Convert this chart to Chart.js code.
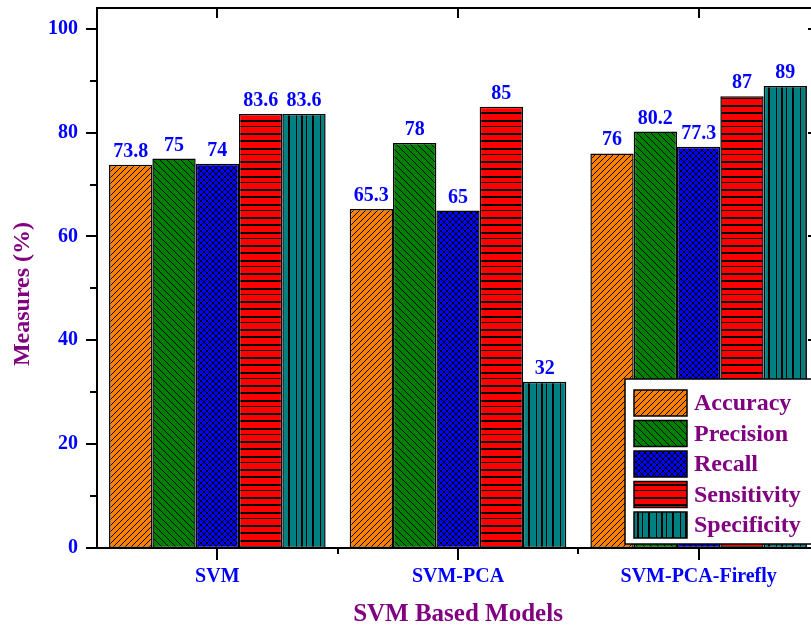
<!DOCTYPE html>
<html>
<head>
<meta charset="utf-8">
<script src="https://cdn.jsdelivr.net/npm/chart.js@4.4.0/dist/chart.umd.min.js"></script>
<style>
  html, body { margin: 0; padding: 0; background: #fff; overflow: hidden; }
  #wrap { width: 830px; height: 630px; }
</style>
</head>
<body>
<div id="wrap"><canvas id="chart" width="830" height="630"></canvas></div>
<script>
// data
const models = ['SVM', 'SVM-PCA', 'SVM-PCA-Firefly'];
const metrics = ['Accuracy', 'Precision', 'Recall', 'Sensitivity', 'Specificity'];
const accuracy = [73.8, 65.3, 76];
const precision = [75, 78, 80.2];
const recall = [74, 65, 77.3];
const sensitivity = [83.6, 85, 87];
const specificity = [83.6, 32, 89];

const SERIF = '"Liberation Serif", "Times New Roman", serif';
const PURPLE = '#800080';
const BLUE = '#0000FF';

// hatch fills like the Origin patterns
function makePattern(kind, bg) {
    const c = document.createElement('canvas');
    const g = c.getContext('2d');
    let w = 6, h = 6;
    if (kind === 'back') { w = 7; h = 7; }
    if (kind === 'hlines') { w = 4; h = 28; }
    if (kind === 'vlines') { w = 24; h = 4; }
    c.width = w; c.height = h;
    g.fillStyle = bg;
    g.fillRect(0, 0, w, h);
    g.fillStyle = '#000';
    g.strokeStyle = '#000';
    g.lineWidth = 1;
    if (kind === 'slash' || kind === 'cross') {
        g.beginPath();
        g.moveTo(-1, h + 1); g.lineTo(w + 1, -1);
        g.moveTo(-1, 1); g.lineTo(1, -1);
        g.moveTo(w - 1, h + 1); g.lineTo(w + 1, h - 1);
        g.stroke();
    }
    if (kind === 'back' || kind === 'cross') {
        g.beginPath();
        g.moveTo(-1, -1); g.lineTo(w + 1, h + 1);
        g.moveTo(w - 1, -1); g.lineTo(w + 1, 1);
        g.moveTo(-1, h - 1); g.lineTo(1, h + 1);
        g.stroke();
    }
    if (kind === 'hlines') {
        g.fillRect(0, 0, w, 2);
        g.fillRect(0, 8, w, 2);
        g.fillRect(0, 14, w, 1);
        g.fillRect(0, 21, w, 2);
    }
    if (kind === 'vlines') {
        g.fillRect(0, 0, 2, h);
        g.fillRect(8, 0, 1, h);
        g.fillRect(13, 0, 2, h);
        g.fillRect(18, 0, 1, h);
    }
    return g.createPattern(c, 'repeat');
}

const fills = [
    makePattern('slash', '#FF8000'),
    makePattern('back', '#008000'),
    makePattern('cross', '#0000FF'),
    makePattern('hlines', '#FF0000'),
    makePattern('vlines', '#008080')
];
const seriesData = [accuracy, precision, recall, sensitivity, specificity];

// axes box and tick marks
const framePlugin = {
    id: 'frame',
    afterDatasetsDraw(chart) {
        const { ctx, chartArea: a, scales: { x, y } } = chart;
        ctx.save();
        ctx.strokeStyle = '#000';
        ctx.lineWidth = 2;
        ctx.beginPath();
        ctx.moveTo(a.left - 11, a.bottom); ctx.lineTo(a.right, a.bottom);
        ctx.moveTo(a.left, a.bottom); ctx.lineTo(a.left, a.top);
        ctx.lineTo(a.right, a.top); ctx.lineTo(a.right, a.bottom);
        for (let v = 10; v <= 100; v += 10) {
            const py = Math.round(y.getPixelForValue(v));
            const len = v % 20 === 0 ? 11 : 7;
            ctx.moveTo(a.left - len, py); ctx.lineTo(a.left, py);
            ctx.moveTo(a.right - len, py); ctx.lineTo(a.right, py);
        }
        models.forEach((m, i) => {
            const px = Math.round(x.getPixelForValue(i));
            ctx.moveTo(px, a.bottom); ctx.lineTo(px, a.bottom + 12);
            ctx.moveTo(px, a.top); ctx.lineTo(px, a.top + 10);
            if (i < models.length - 1) {
                const mx = Math.round((x.getPixelForValue(i) + x.getPixelForValue(i + 1)) / 2);
                ctx.moveTo(mx, a.bottom); ctx.lineTo(mx, a.bottom + 6);
            }
        });
        ctx.stroke();

        // y axis title
        ctx.translate(23, 294);
        ctx.rotate(-Math.PI / 2);
        ctx.fillStyle = PURPLE;
        ctx.font = 'bold 24px ' + SERIF;
        ctx.textAlign = 'center';
        ctx.textBaseline = 'middle';
        ctx.fillText('Measures (%)', 0, 0);
        ctx.restore();
    }
};

// value labels above bars
const valuePlugin = {
    id: 'values',
    afterDatasetsDraw(chart) {
        const ctx = chart.ctx;
        ctx.save();
        ctx.fillStyle = BLUE;
        ctx.font = 'bold 20px ' + SERIF;
        ctx.textAlign = 'center';
        ctx.textBaseline = 'alphabetic';
        chart.data.datasets.forEach((ds, i) => {
            chart.getDatasetMeta(i).data.forEach((bar, j) => {
                ctx.fillText(String(ds.data[j]), bar.x, bar.y - 8);
            });
        });
        ctx.restore();
    }
};

// boxed legend in the lower right, over the bars
const legendPlugin = {
    id: 'boxLegend',
    afterDraw(chart) {
        const ctx = chart.ctx;
        ctx.save();
        ctx.fillStyle = '#fff';
        ctx.fillRect(625, 379, 220, 165);
        ctx.strokeStyle = '#000';
        ctx.lineWidth = 1.5;
        ctx.strokeRect(625, 379, 220, 165);
        ctx.font = 'bold 24px ' + SERIF;
        ctx.textBaseline = 'middle';
        ctx.textAlign = 'left';
        chart.data.datasets.forEach((ds, i) => {
            const sy = 390 + i * 30.5;
            ctx.fillStyle = ds.backgroundColor;
            ctx.fillRect(634, sy, 53, 26);
            ctx.strokeRect(634, sy, 53, 26);
            ctx.fillStyle = PURPLE;
            ctx.fillText(ds.label, 694, sy + 14);
        });
        ctx.restore();
    }
};

new Chart(document.getElementById('chart'), {
    type: 'bar',
    data: {
        labels: models,
        datasets: metrics.map((name, i) => ({
            label: name,
            data: seriesData[i],
            backgroundColor: fills[i],
            borderColor: '#000',
            borderWidth: 1.5,
            borderSkipped: false,
            categoryPercentage: 0.9,
            barPercentage: 1
        }))
    },
    options: {
        responsive: false,
        animation: false,
        layout: { padding: { top: 8, right: 11, left: 0, bottom: 0 } },
        plugins: {
            legend: { display: false },
            tooltip: { enabled: false }
        },
        scales: {
            x: {
                grid: { display: false, drawTicks: false, tickLength: 0 },
                border: { display: false },
                ticks: {
                    color: BLUE,
                    padding: 17,
                    font: { family: SERIF, size: 20, weight: 'bold' }
                },
                title: {
                    display: true,
                    text: 'SVM Based Models',
                    color: PURPLE,
                    padding: { top: 0, bottom: 3 },
                    font: { family: SERIF, size: 25, weight: 'bold', lineHeight: 1 }
                },
                afterFit(scale) {
                    scale.height = 82;
                    scale.paddingLeft = 0;
                    scale.paddingRight = 0;
                }
            },
            y: {
                min: 0,
                max: 104,
                grid: { display: false, drawTicks: false, tickLength: 0 },
                border: { display: false },
                ticks: {
                    stepSize: 20,
                    includeBounds: false,
                    color: BLUE,
                    padding: 19,
                    font: { family: SERIF, size: 20, weight: 'bold' }
                },
                afterFit(scale) {
                    scale.width = 97;
                    scale.paddingTop = 0;
                    scale.paddingBottom = 0;
                }
            }
        }
    },
    plugins: [framePlugin, valuePlugin, legendPlugin]
});
</script>
</body>
</html>
